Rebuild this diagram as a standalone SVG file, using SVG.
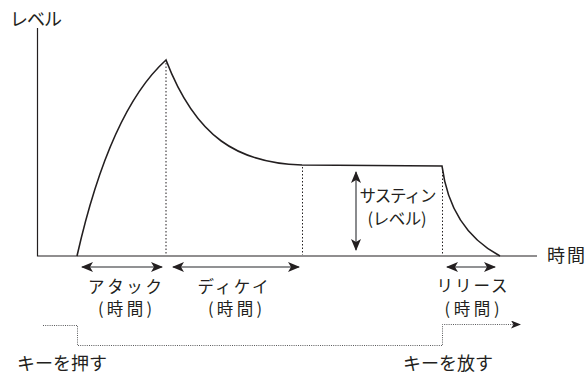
<svg xmlns="http://www.w3.org/2000/svg" width="587" height="377" viewBox="0 0 587 377">
<defs>
<style>
text{font-family:"Noto Sans CJK JP","Noto Sans",sans-serif;font-size:18px;fill:#231f20}
.sm{font-size:16.5px}
.ax{stroke:#231f20;stroke-width:1.2;fill:none}
.crv{stroke:#231f20;stroke-width:1.6;fill:none}
.dot{stroke:#231f20;stroke-width:1;stroke-dasharray:1.5 2;fill:none}
.arr{stroke:#6d6e71;stroke-width:1.6;fill:none;marker-start:url(#ah);marker-end:url(#ah)}
.gate{stroke:#58595b;stroke-width:1;stroke-dasharray:1 1.2;fill:none;marker-end:url(#gh)}
</style>
<marker id="ah" viewBox="0 0 12 10" refX="11" refY="5" markerWidth="12" markerHeight="10" markerUnits="userSpaceOnUse" orient="auto-start-reverse">
<path d="M0,0 L12,5 L0,10 L3,5 Z" fill="#231f20"/>
</marker>
<marker id="gh" viewBox="0 0 10 8" refX="9" refY="4" markerWidth="10" markerHeight="8" markerUnits="userSpaceOnUse" orient="auto">
<path d="M0,0 L10,4 L0,8 L2.5,4 Z" fill="#231f20"/>
</marker>
</defs>
<g id="axes">
<path class="ax" d="M37.5,28 V256 H537"/>
<text x="10" y="26" textLength="52">レベル</text>
<text x="547" y="262" textLength="38">時間</text>
</g>
<g id="envelope">
<path class="crv" d="M77,256 C96,172 124,98 166,60 C196,138 238,163 302,165 L442,166 C448,212 470,240 500,256"/>
</g>
<g id="connectors">
<path class="dot" d="M166,63 V255"/>
<path class="dot" d="M302.5,167 V255"/>
<path class="dot" d="M442.5,168 V255"/>
<path class="arr" d="M82,267 H162"/>
<path class="arr" d="M173,267 H299"/>
<path class="arr" d="M447,267 H495"/>
<path class="arr" d="M356,172 V250"/>
<path class="gate" d="M43,325.5 H77.5 V345.5 H442.5 V324.5 H520"/>
</g>
<g id="attack">
<text class="sm" x="125" y="293" text-anchor="middle" textLength="74">アタック</text>
<text class="sm" x="125" y="315" text-anchor="middle" textLength="54">(時間)</text>
</g>
<g id="decay">
<text class="sm" x="233" y="293" text-anchor="middle" textLength="71">ディケイ</text>
<text class="sm" x="235" y="315" text-anchor="middle" textLength="54">(時間)</text>
</g>
<g id="sustain">
<text class="sm" x="398" y="202" text-anchor="middle" textLength="77">サスティン</text>
<text class="sm" x="397" y="225" text-anchor="middle" textLength="59">(レベル)</text>
</g>
<g id="release">
<text class="sm" x="472" y="292" text-anchor="middle" textLength="71">リリース</text>
<text class="sm" x="472" y="315" text-anchor="middle" textLength="55">(時間)</text>
</g>
<g id="keypress">
<text x="17" y="370" textLength="90">キーを押す</text>
</g>
<g id="keyrelease">
<text x="403" y="370" textLength="90">キーを放す</text>
</g>
</svg>
